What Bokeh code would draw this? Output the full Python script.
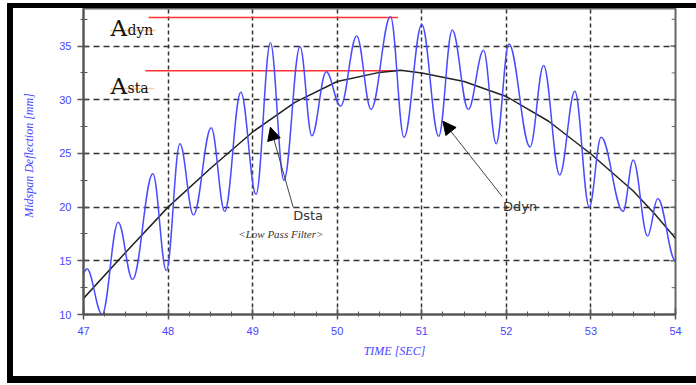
import numpy as np
from bokeh.plotting import figure
from bokeh.models import (Range1d, FixedTicker, Label, Arrow, NormalHead, ColumnDataSource)
from bokeh.embed import file_html
from bokeh.resources import INLINE

# ---- data ----
# dynamic response (extrema of the oscillating blue trace)
dyn_time = [47.0, 47.04, 47.22, 47.41, 47.58, 47.82, 47.98, 48.14, 48.30, 48.51,
            48.67, 48.86, 49.04, 49.21, 49.37, 49.56, 49.70, 49.87, 50.04, 50.23,
            50.40, 50.63, 50.79, 51.00, 51.20, 51.36, 51.55, 51.73, 51.88, 52.03,
            52.28, 52.44, 52.63, 52.81, 52.98, 53.12, 53.38, 53.50, 53.67, 53.79, 54.0]
dyn_defl = [13.9, 14.25, 10.0, 18.6, 13.26, 23.1, 14.1, 25.9, 19.27, 27.4,
            19.6, 30.7, 21.2, 35.3, 22.5, 34.96, 26.65, 32.6, 29.4, 35.95,
            29.1, 37.75, 26.5, 37.0, 26.6, 36.5, 29.1, 34.6, 25.9, 35.2,
            25.6, 33.2, 23.0, 30.8, 20.0, 26.5, 19.6, 24.4, 17.3, 20.8, 15.0]

# static response (low pass filtered, black curve)
sta_time = [47.0, 47.5, 48.0, 48.5, 49.0, 49.5, 50.0, 50.5, 50.75, 51.0,
            51.5, 52.0, 52.5, 53.0, 53.5, 53.75, 54.0]
sta_defl = [11.5, 15.8, 20.0, 23.6, 27.0, 29.75, 31.7, 32.55, 32.75, 32.5,
            31.7, 30.3, 28.0, 24.95, 21.5, 19.4, 17.1]

# amplitude marker lines (A_dyn, A_sta)
amp_names = ["dyn", "sta"]
amp_values = [37.66, 32.7]
amp_start = [47.77, 47.73]
amp_end = [50.72, 50.71]

x_ticks = [47, 48, 49, 50, 51, 52, 53, 54]
x_tick_labels = ["47", "48", "49", "50", "51", "52", "53", "54"]
y_ticks = [10, 15, 20, 25, 30, 35]
y_tick_labels = ["10", "15", "20", "25", "30", "35"]

BLUE_TXT = "#4646ff"
NB = "\u00a0"

# Bokeh lays the canvas out at (declared size + CSS border), so borders below
# are measured against a 689 x 380 canvas.
p = figure(width=683, height=368, x_range=Range1d(47, 54), y_range=Range1d(10, 38.5),
           output_backend="svg", toolbar_location=None,
           min_border_left=70, min_border_right=27, min_border_top=0, min_border_bottom=74)
p.styles = {"box-sizing": "content-box", "margin": "3px 0px 0px 7px",
            "border-top": "5px solid black", "border-left": "6px solid black",
            "border-bottom": "7px solid black", "border-right": "0px none",
            "overflow": "hidden"}
p.outline_line_color = "#666666"
p.outline_line_width = 2
p.background_fill_color = "white"
p.border_fill_color = "white"

# grids
p.xgrid.ticker = FixedTicker(ticks=x_ticks[1:-1])
p.xgrid.grid_line_color = "#333333"
p.xgrid.grid_line_dash = "4 3"
p.xgrid.grid_line_width = 1.5
p.ygrid.ticker = FixedTicker(ticks=y_ticks[1:])
p.ygrid.grid_line_color = "#333333"
p.ygrid.grid_line_dash = "6 4"
p.ygrid.grid_line_width = 1.5

# axes
xminor = [x_ticks[0] + 0.25 * i for i in range(1, 28) if i % 4]
yminor = [v + 2.5 for v in y_ticks]
for ax in p.xaxis:
    ax.ticker = FixedTicker(ticks=x_ticks, minor_ticks=xminor)
    ax.major_label_overrides = {t: l for t, l in zip(x_ticks, x_tick_labels)}
    ax.axis_line_color = "#555555"
    ax.axis_line_width = 2
    ax.major_tick_line_color = "#555555"
    ax.minor_tick_line_color = "#555555"
    ax.major_tick_line_width = 1.5
    ax.major_tick_in = 6
    ax.major_tick_out = 5
    ax.minor_tick_in = 3
    ax.minor_tick_out = 2
    ax.major_label_standoff = 7
    ax.major_label_text_color = BLUE_TXT
    ax.major_label_text_font = "Liberation Sans"
    ax.major_label_text_font_size = "11px"
    ax.axis_label = NB * 10 + "TIME [SEC]"
    ax.axis_label_standoff = 6
    ax.axis_label_text_font = "Liberation Serif"
    ax.axis_label_text_font_style = "italic"
    ax.axis_label_text_font_size = "12px"
    ax.axis_label_text_color = BLUE_TXT
for ax in p.yaxis:
    ax.ticker = FixedTicker(ticks=y_ticks, minor_ticks=yminor)
    ax.major_label_overrides = {t: l for t, l in zip(y_ticks, y_tick_labels)}
    ax.axis_line_color = "#555555"
    ax.axis_line_width = 2
    ax.major_tick_line_color = "#555555"
    ax.minor_tick_line_color = "#555555"
    ax.major_tick_line_width = 1.5
    ax.major_tick_in = 5
    ax.major_tick_out = 6
    ax.minor_tick_in = 4
    ax.minor_tick_out = 3
    ax.major_label_standoff = 6
    ax.major_label_text_color = BLUE_TXT
    ax.major_label_text_font = "Liberation Sans"
    ax.major_label_text_font_size = "11px"
    ax.axis_label = NB * 4 + "Midspan Deflection [mm]"
    ax.axis_label_standoff = 20
    ax.axis_label_text_font = "Liberation Serif"
    ax.axis_label_text_font_style = "italic"
    ax.axis_label_text_font_size = "12px"
    ax.axis_label_text_color = BLUE_TXT

# inward ticks on the right frame edge (x = last tick)
rx = x_ticks[-1]
p.segment(x0=[rx - 0.06] * len(y_ticks), y0=y_ticks, x1=[rx] * len(y_ticks), y1=y_ticks,
          line_color="#666666", line_width=1.5)
p.segment(x0=[rx - 0.045] * len(yminor), y0=yminor, x1=[rx] * len(yminor), y1=yminor,
          line_color="#666666", line_width=1)

# red amplitude lines
p.segment(x0=amp_start, y0=amp_values, x1=amp_end, y1=amp_values,
          line_color="#ff3030", line_width=1.5)

# static curve
p.line(sta_time, sta_defl, line_color="#222222", line_width=1.5)

# dynamic curve: smooth cubic segments between successive extrema
tx = np.array(dyn_time)
dy = np.array(dyn_defl)
k = 0.37
dx = tx[1:] - tx[:-1]
src = ColumnDataSource(dict(x0=tx[:-1], y0=dy[:-1], x1=tx[1:], y1=dy[1:],
                            cx0=tx[:-1] + k * dx, cy0=dy[:-1],
                            cx1=tx[1:] - k * dx, cy1=dy[1:]))
p.bezier("x0", "y0", "x1", "y1", "cx0", "cy0", "cx1", "cy1", source=src,
         line_color="#4a4aff", line_width=1.5)

# A_dyn / A_sta labels
for nm, yb in zip(amp_names, [36.7, 31.3]):
    p.add_layout(Label(x=47.32, y=yb, text="A", text_font="DejaVu Serif",
                       text_font_size="23px", text_color="#111111",
                       text_baseline="alphabetic", text_align="left"))
    p.add_layout(Label(x=47.52, y=yb - 0.2, text=nm, text_font="DejaVu Serif",
                       text_font_size="14px", text_color="#111111",
                       text_baseline="alphabetic", text_align="left"))
p.segment(x0=[47.32, 47.32], y0=[36.45, 31.05], x1=[47.86, 47.83], y1=[36.45, 31.05],
          line_color="#ff9a1a", line_width=1.5, line_dash="1 1")

# annotations
p.add_layout(Label(x=49.48, y=19.2, text="Dsta", text_font="DejaVu Sans",
                   text_font_size="13px", text_color="#333333",
                   text_baseline="middle", text_align="left"))
p.add_layout(Label(x=48.83, y=17.5, text="<Low Pass Filter>", text_font="Liberation Serif",
                   text_font_style="italic", text_font_size="11px", text_color="#333333",
                   text_baseline="middle", text_align="left"))
p.add_layout(Label(x=51.96, y=20.05, text="Ddyn", text_font="DejaVu Sans",
                   text_font_size="13px", text_color="#333333",
                   text_baseline="middle", text_align="left"))
p.add_layout(Arrow(end=NormalHead(size=13, fill_color="black", line_color="black"),
                   x_start=49.48, y_start=19.98, x_end=49.21, y_end=27.45,
                   line_color="#444444", line_width=1))
p.add_layout(Arrow(end=NormalHead(size=13, fill_color="black", line_color="black"),
                   x_start=51.95, y_start=21.0, x_end=51.25, y_end=28.0,
                   line_color="#444444", line_width=1))

open("out.html", "w").write(file_html(p, INLINE))
